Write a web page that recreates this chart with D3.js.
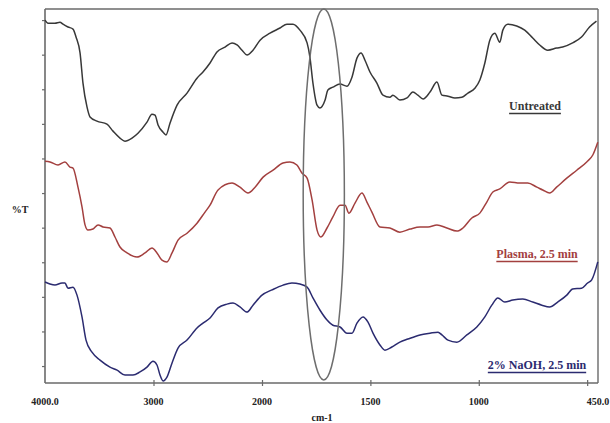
<!DOCTYPE html>
<html>
<head>
<meta charset="utf-8">
<script src="https://cdn.jsdelivr.net/npm/d3@7"></script>
<style>
  html, body { margin: 0; padding: 0; background: #fff; }
  svg { display: block; }
  text { font-family: "Liberation Serif", "Times New Roman", serif; font-weight: bold; }
</style>
</head>
<body>
<svg id="chart" width="610" height="423"></svg>
<script>
// FTIR spectra: wavenumber (cm-1) and transmittance (%T, offset per trace)
const untreatedWn = [4000,3972,3908,3862,3834,3788,3742,3714,3677,3650,3613,3585,3521,3429,3373,3309,3263,3198,3143,3060,3014,2986,2958,2912,2885,2848,2783,2691,2599,2544,2479,2415,2341,2276,2230,2184,2138,2083,2018,1963,1917,1885,1857,1825,1792,1779,1765,1746,1733,1709,1696,1673,1640,1608,1585,1562,1543,1525,1502,1470,1442,1410,1396,1364,1331,1304,1281,1257,1225,1193,1170,1142,1110,1078,1050,1018,995,972,949,926,903,889,866,825,788,751,719,682,641,613,567,526,489,457];
const untreatedT = [100,99.1,99.1,99.4,98.8,98.0,97.4,95.1,90.5,81.8,74.9,72.0,70.8,69.9,67.9,65.9,65.0,65.9,67.3,70.5,72.8,72.5,69.7,67.6,66.8,70.2,75.4,78.9,83.2,85.0,87.6,90.8,92.2,93.4,92.8,91.3,89.9,91.3,94.2,96.2,97.7,98.8,98.8,97.1,93.4,89.3,81.8,75.4,74.6,76.9,79.8,80.6,81.5,80.9,83.5,89.0,90.5,88.4,85.0,81.8,78.3,77.7,78.3,76.9,77.5,79.2,78.3,77.2,79.2,82.1,78.3,78.0,77.5,77.7,78.9,80.3,82.7,87.6,94.2,96.2,93.6,97.1,98.8,98.3,97.1,94.8,92.8,91.3,91.9,92.2,93.4,95.1,98.0,99.7];

const plasmaWn = [4000,3954,3880,3816,3770,3742,3696,3659,3631,3604,3558,3511,3465,3401,3355,3309,3244,3152,3078,3014,2968,2922,2876,2829,2774,2691,2599,2525,2479,2405,2276,2203,2129,2064,1995,1949,1903,1871,1839,1816,1792,1769,1746,1728,1700,1673,1640,1617,1599,1571,1539,1516,1493,1456,1410,1364,1317,1271,1234,1193,1147,1101,1073,1032,995,963,935,903,857,811,774,732,705,673,641,594,548,502,474,451];
const plasmaT = [59.2,59.0,58.1,59.0,57.5,57.2,51.7,46.0,40.8,39.3,39.6,40.8,40.2,39.9,37.3,34.4,32.7,31.5,32.7,34.1,32.7,30.6,30.1,32.7,36.4,38.4,41.3,44.5,46.5,50.9,52.9,51.7,50.0,51.7,54.6,56.6,58.7,59.0,58.1,55.8,54.3,48.0,39.3,37.3,39.9,43.1,46.5,46.5,44.2,47.1,50.0,47.4,44.5,40.2,39.9,38.7,39.6,40.2,40.2,40.8,39.9,39.0,39.9,42.8,44.2,47.4,50.3,51.2,53.2,52.9,52.9,51.7,50.9,50.0,51.7,54.3,56.6,59.0,61.0,64.7];

const naohWn = [4000,3954,3908,3843,3816,3788,3742,3705,3659,3622,3567,3493,3401,3336,3263,3189,3124,3060,3005,2968,2940,2912,2876,2829,2774,2691,2599,2544,2479,2405,2323,2267,2203,2138,2083,2000,1954,1903,1862,1825,1792,1765,1733,1700,1673,1640,1608,1585,1562,1534,1511,1488,1456,1433,1401,1364,1327,1271,1225,1188,1170,1142,1101,1055,1009,972,940,912,880,843,797,751,709,673,636,594,567,526,498,479,451];
const naohT = [24.3,23.7,23.4,24.0,24.0,22.5,22.8,20.5,14.2,7.5,4.0,1.7,-0.3,-1.2,-2.6,-2.6,-1.7,-0.3,1.4,0.3,-2.6,-4.3,-3.2,0.9,5.2,7.5,11.0,12.4,13.9,16.8,17.9,18.2,17.1,15.6,17.6,20.5,22.0,23.4,24.0,23.7,22.8,19.7,16.2,13.3,11.8,11.3,9.5,9.5,12.4,14.2,12.7,9.5,6.1,4.6,5.5,6.9,7.8,9.0,9.5,9.8,9.0,7.5,6.9,9.0,11.3,14.2,17.6,19.7,18.5,19.1,19.4,18.5,17.6,17.1,18.5,20.5,22.3,22.5,24.0,24.9,30.1];

const seriesNames = ["Untreated", "Plasma, 2.5 min", "2% NaOH, 2.5 min"];
const seriesColors = ["#383838", "#a3403f", "#2b2b70"];

// Axis ticks and labels
const xTickLabels = [[4000, "4000.0"], [3000, "3000"], [2000, "2000"], [1500, "1500"], [1000, "1000"], [450, "450.0"]];
const xTickMarks = [3000, 2000, 1500, 1000, 500];
const yTickValues = [0, 10, 20, 30, 40, 50, 60, 70, 80, 90, 100];

// Highlighted carbonyl band (cm-1) and its vertical extent (%T)
const bandWn = [1810, 1620];
const bandT = [-4.0, 103.2];

const svg = d3.select("#chart");
const plotLeft = 45, plotRight = 598, plotTop = 9, plotBottom = 383;

// Split wavenumber axis: 4000-2000 compressed, 2000-450 expanded
const x = d3.scaleLinear().domain([4000, 2000, 450]).range([plotLeft, 262, plotRight]);
const y = d3.scaleLinear().domain([-4.9, 103.2]).range([plotBottom, plotTop]);

const axisColor = "#6a6a6a";

// Frame
svg.append("line").attr("x1", plotLeft).attr("x2", plotRight).attr("y1", plotTop).attr("y2", plotTop)
  .attr("stroke", axisColor).attr("stroke-width", 1.6);
svg.append("line").attr("x1", plotRight).attr("x2", plotRight).attr("y1", plotTop).attr("y2", plotBottom)
  .attr("stroke", axisColor).attr("stroke-width", 1.4);

// Left axis (unlabelled %T ticks)
const yAxis = d3.axisLeft(y).tickValues(yTickValues).tickSize(3).tickFormat("");
const gy = svg.append("g").attr("transform", `translate(${plotLeft},0)`).call(yAxis);
gy.select(".domain").attr("stroke", axisColor).attr("stroke-width", 1.6).attr("d", `M0,${plotTop}V${plotBottom}`);
gy.selectAll(".tick line").attr("stroke", axisColor).attr("stroke-width", 1.2);

// Bottom axis
const xAxis = d3.axisBottom(x).tickValues(xTickMarks).tickSize(3).tickFormat("");
const gx = svg.append("g").attr("transform", `translate(0,${plotBottom})`).call(xAxis);
gx.select(".domain").attr("stroke", axisColor).attr("stroke-width", 1.6).attr("d", `M${plotLeft},0H${plotRight}`);
gx.selectAll(".tick line").attr("stroke", axisColor).attr("stroke-width", 1.2).attr("y1", -3);

svg.append("g").selectAll("text").data(xTickLabels).join("text")
  .attr("x", d => x(d[0])).attr("y", 405)
  .attr("text-anchor", "middle").attr("font-size", 10).attr("fill", "#222")
  .text(d => d[1]);

svg.append("text").attr("x", 322).attr("y", 421).attr("text-anchor", "middle")
  .attr("font-size", 10).attr("fill", "#222").text("cm-1");

svg.append("text").attr("x", 20).attr("y", 213).attr("text-anchor", "middle")
  .attr("font-size", 10).attr("fill", "#222").text("%T");

// Spectra
const line = d3.line().x(d => x(d[0])).y(d => y(d[1])).curve(d3.curveMonotoneX);
const spectra = [
  d3.zip(untreatedWn, untreatedT),
  d3.zip(plasmaWn, plasmaT),
  d3.zip(naohWn, naohT)
];
svg.append("g").selectAll("path").data(spectra).join("path")
  .attr("d", line).attr("fill", "none")
  .attr("stroke", (d, i) => seriesColors[i]).attr("stroke-width", 1.5)
  .attr("stroke-linejoin", "round");

// Ellipse around the carbonyl band
svg.append("ellipse")
  .attr("cx", (x(bandWn[0]) + x(bandWn[1])) / 2)
  .attr("cy", (y(bandT[0]) + y(bandT[1])) / 2)
  .attr("rx", Math.abs(x(bandWn[1]) - x(bandWn[0])) / 2)
  .attr("ry", Math.abs(y(bandT[0]) - y(bandT[1])) / 2)
  .attr("fill", "none").attr("stroke", "#6e6e6e").attr("stroke-width", 1.5);

// Underlined trace labels
const labelPos = [[535, 110], [537, 258], [537, 369]];
seriesNames.forEach((name, i) => {
  const t = svg.append("text").attr("x", labelPos[i][0]).attr("y", labelPos[i][1])
    .attr("text-anchor", "middle").attr("font-size", 12).attr("fill", seriesColors[i])
    .text(name);
  const w = t.node().getComputedTextLength();
  svg.append("line")
    .attr("x1", labelPos[i][0] - w / 2).attr("x2", labelPos[i][0] + w / 2)
    .attr("y1", labelPos[i][1] + 3.5).attr("y2", labelPos[i][1] + 3.5)
    .attr("stroke", seriesColors[i]).attr("stroke-width", 1.3);
});
</script>
</body>
</html>
